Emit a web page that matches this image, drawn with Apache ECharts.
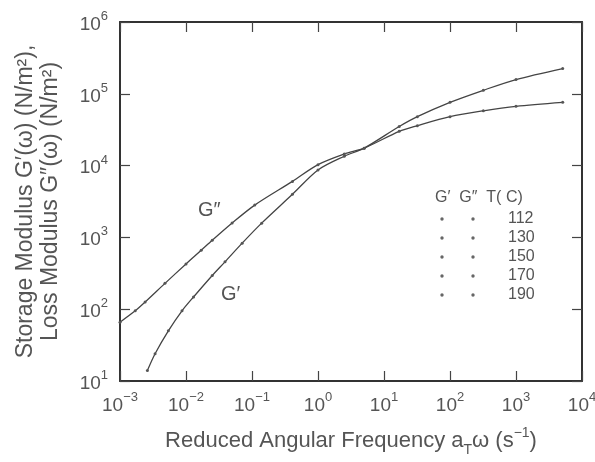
<!DOCTYPE html>
<html><head><meta charset="utf-8">
<script src="https://cdn.jsdelivr.net/npm/echarts@6/dist/echarts.min.js"></script>
<style>html,body{margin:0;padding:0;background:#fff}#c{width:595px;height:462px}</style>
</head><body><div id="c"></div>
<script>
// Reduced angular frequency (s^-1) and moduli (N/m^2)
const gPrimeFreq = [0.0026, 0.0034, 0.0054, 0.0087, 0.013, 0.025, 0.039, 0.071, 0.14, 0.41, 1.0, 2.5, 5.0, 17, 32, 100, 320, 1000, 5100];
const gPrimeVal  = [14, 24, 50, 95, 148, 295, 457, 832, 1580, 3980, 8700, 13500, 17500, 35000, 48000, 76000, 112000, 158000, 225000];
const gDoublePrimeFreq = [0.001, 0.0017, 0.0024, 0.0048, 0.01, 0.017, 0.025, 0.05, 0.11, 0.41, 1.0, 2.5, 5.0, 17, 32, 100, 320, 1000, 5100];
const gDoublePrimeVal  = [66, 95, 126, 229, 427, 661, 912, 1585, 2818, 6026, 10300, 14500, 17500, 30000, 36000, 48000, 58000, 67000, 76000];
const legendTemps = ['112', '130', '150', '170', '190'];

const chart = echarts.init(document.getElementById('c'));
const txt = '#555';
const font = 'Liberation Sans, Arial, sans-serif';
function pow(v){
  const e = Math.round(Math.log10(v));
  return '{b|10}{s|' + String(e).replace('-', '\u2212') + '}';
}
const richLab = {
  b: {fontSize: 19, color: txt, fontFamily: font, lineHeight: 24, verticalAlign: 'bottom'},
  s: {fontSize: 13, color: txt, fontFamily: font, lineHeight: 24, verticalAlign: 'top'}
};
const pairs = (xs, ys) => xs.map((x, i) => [x, ys[i]]);

const graphics = [];
graphics.push({type:'text', left: 198, top: 200, style:{text:'G\u2033', font:'20px ' + font, fill:txt}});
graphics.push({type:'text', left: 221, top: 284, style:{text:'G\u2032', font:'20px ' + font, fill:txt}});
graphics.push({type:'text', left: 435, top: 190, style:{text:'G\u2032  G\u2033  T(\u00a0C)', font:'16px ' + font, fill:txt}});
legendTemps.forEach((t, i) => {
  const y = 211 + i * 19;
  graphics.push({type:'circle', shape:{cx: 442, cy: y + 8, r: 1.7}, style:{fill:'#666'}});
  graphics.push({type:'circle', shape:{cx: 473, cy: y + 8, r: 1.7}, style:{fill:'#666'}});
  graphics.push({type:'text', left: 508, top: y, style:{text: t, font:'16px ' + font, fill:txt}});
});

const axisCommon = {
  type: 'log', logBase: 10,
  axisLine: {show: true, lineStyle: {color: '#333', width: 2}},
  axisTick: {show: true, inside: true, length: 10, lineStyle: {color: '#444', width: 1.2}},
  minorTick: {show: false},
  splitLine: {show: false}
};

chart.setOption({
  backgroundColor: '#fff',
  animation: false,
  grid: {left: 120, right: 13, top: 22, bottom: 81, containLabel: false, outerBoundsMode: 'none'},
  xAxis: [
    Object.assign({}, axisCommon, {
      min: 0.001, max: 10000, position: 'bottom',
      axisLabel: {formatter: pow, rich: richLab, margin: 10},
      name: '{n|Reduced Angular Frequency a}{sub|T}{n|\u03c9 (s}{sup|\u22121}{n|)}',
      nameLocation: 'middle', nameGap: 45,
      nameTextStyle: {rich: {
        n: {fontSize: 22, color: txt, fontFamily: font, lineHeight: 26, verticalAlign:'bottom'},
        sub: {fontSize: 14, color: txt, fontFamily: font, lineHeight: 26, verticalAlign:'bottom', padding:[0,0,-5,0]},
        sup: {fontSize: 14, color: txt, fontFamily: font, lineHeight: 26, verticalAlign:'top'}
      }}
    }),
    Object.assign({}, axisCommon, {min: 0.001, max: 10000, position: 'top', axisLabel: {show: false}})
  ],
  yAxis: [
    Object.assign({}, axisCommon, {
      min: 10, max: 1000000, position: 'left',
      axisLabel: {formatter: pow, rich: richLab, margin: 12},
      name: 'Storage Modulus G\u2032(\u03c9) (N/m\u00b2),\nLoss Modulus G\u2033(\u03c9) (N/m\u00b2)',
      nameLocation: 'middle', nameGap: 57, nameRotate: 90,
      nameTextStyle: {fontSize: 23, color: txt, fontFamily: font, lineHeight: 25}
    }),
    Object.assign({}, axisCommon, {min: 10, max: 1000000, position: 'right', axisLabel: {show: false}})
  ],
  series: [
    {name: "G'", type: 'line', smooth: 0.3, data: pairs(gPrimeFreq, gPrimeVal),
     symbol: 'circle', symbolSize: 3, showSymbol: true,
     lineStyle: {color: '#444', width: 1.3}, itemStyle: {color: '#555'}},
    {name: "G''", type: 'line', smooth: 0.3, data: pairs(gDoublePrimeFreq, gDoublePrimeVal),
     symbol: 'circle', symbolSize: 3, showSymbol: true,
     lineStyle: {color: '#444', width: 1.3}, itemStyle: {color: '#555'}}
  ],
  graphic: graphics
});
</script></body></html>
